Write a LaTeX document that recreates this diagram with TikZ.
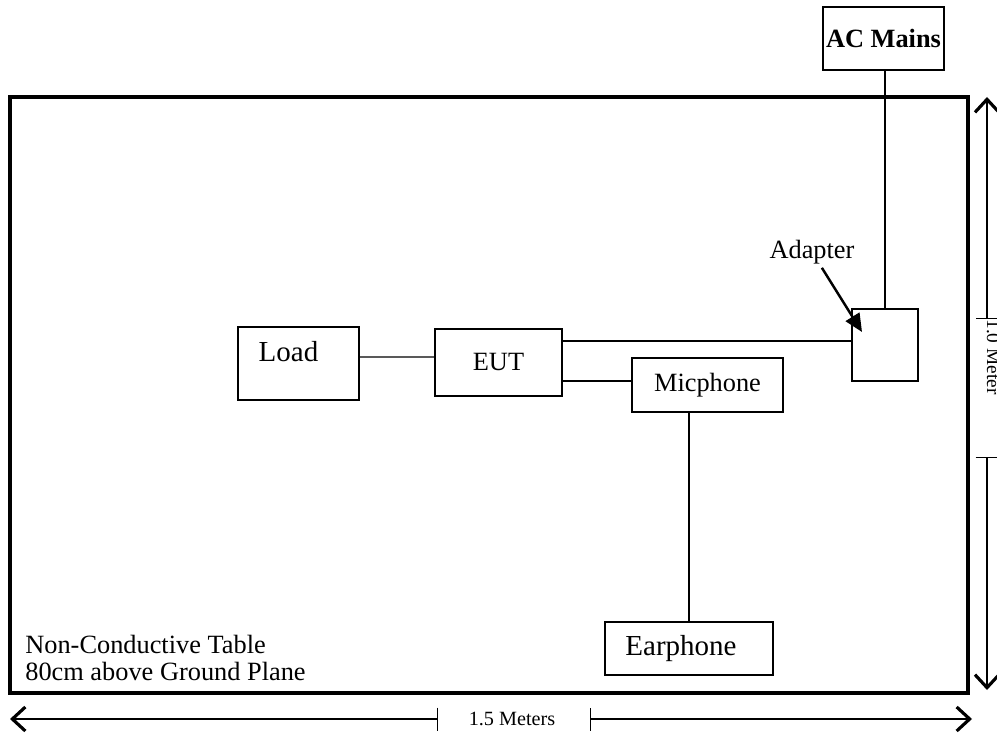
\documentclass[tikz,border=0pt]{standalone}
\usepackage{fontspec}
\setmainfont{Liberation Serif}
\usetikzlibrary{arrows.meta, positioning}
\colorlet{colLine}{black}
\tikzset{
  boxBase/.style={
    draw=colLine, line width=0.9pt, inner sep=0pt,
    align=center, font=\fontsize{15}{17}\selectfont, text=colLine
  },
  boxBig/.style={boxBase, font=\fontsize{16.5}{18}\selectfont},
  boxMains/.style={boxBase, font=\fontsize{15}{17}\selectfont\bfseries},
  tableEdge/.style={draw=colLine, line width=2pt},
  wire/.style={colLine, line width=0.75pt},
  pointer/.style={-{Triangle[length=3.6mm, width=3.2mm]}, colLine, line width=1.4pt},
  dimLine/.style={{Bar[width=4.6mm, line width=0.8pt]}-{Straight Barb[length=2.6mm, width=4.8mm, line width=1.8pt]},
    colLine, line width=0.85pt},
  dimText/.style={font=\fontsize{11.5}{13}\selectfont, inner sep=0pt},
}
\begin{document}
\begin{tikzpicture}[x=0.02cm, y=-0.02cm]
  \useasboundingbox (0,0) rectangle (997,736);
  % table top
  \draw[tableEdge] (10,97) rectangle (968,693);
  \node[align=left, anchor=north west, inner sep=0pt,
        font=\fontsize{15}{15.5}\selectfont] (tabla) at (25,635)
        {Non-Conductive Table\\80cm above Ground Plane};

  % equipment
  \node[boxMains, minimum width=2.42cm, minimum height=1.26cm] (mains) at (883.5,38.5) {AC Mains};
  \node[boxBase, minimum width=1.32cm, minimum height=1.44cm] (adapter) at (885,345) {};
  \node[font=\fontsize{15}{17}\selectfont, inner sep=2pt] (adLabel) at (812,252) {Adapter};
  \node[boxBig, minimum width=2.42cm, minimum height=1.46cm,
        label={[font=\fontsize{16.5}{18}\selectfont, xshift=-0.2cm, yshift=0.23cm]center:Load}]
       (load) at (298.5,363.5) {};
  \node[boxBase, minimum width=2.54cm, minimum height=1.34cm] (eut) at (498.5,362.5) {EUT};
  \node[boxBase, minimum width=3.02cm, minimum height=1.08cm] (mic) at (707.5,385) {Micphone};
  \node[boxBig, minimum width=3.36cm, minimum height=1.06cm,
        label={[font=\fontsize{16.5}{18}\selectfont, xshift=-0.16cm]center:Earphone}]
       (ear) at (689,648.5) {};
  \coordinate (adTip) at (862,332);

  % cables
  \draw[wire] ([yshift=0.13cm]load.east) -- ([yshift=0.11cm]eut.west);
  \coordinate (eutA) at ([yshift=0.43cm]eut.east);
  \coordinate (eutB) at ([yshift=-0.37cm]eut.east);
  \draw[wire] (eutA) -- (eutA -| adapter.west);
  \draw[wire] (eutB) -- (eutB -| mic.west);
  \draw[wire] (ear.north) -- (ear.north |- mic.south);
  \draw[wire] (adapter.north |- mains.south) -- (adapter.north);
  \draw[pointer] (adLabel) -- (adTip);

  % dimensions
  \node[dimText] (dimH) at (512,719) {1.5 Meters};
  \coordinate (dimHa) at (438,719);
  \coordinate (dimHb) at (590,719);
  \coordinate (dimHizq) at (10,719);
  \coordinate (dimHder) at (972,719);
  \draw[dimLine] (dimHa) -- (dimHizq);
  \draw[dimLine] (dimHb) -- (dimHder);
  \node[dimText, font=\fontsize{11}{12}\selectfont, rotate=-90, anchor=base] (dimV) at (987,357) {1.0 Meter};
  \coordinate (dimVa) at (987,319);
  \coordinate (dimVb) at (987,457);
  \coordinate (dimVsup) at (987,97);
  \coordinate (dimVinf) at (987,690);
  \draw[dimLine] (dimVa) -- (dimVsup);
  \draw[dimLine] (dimVb) -- (dimVinf);
\end{tikzpicture}
\end{document}
